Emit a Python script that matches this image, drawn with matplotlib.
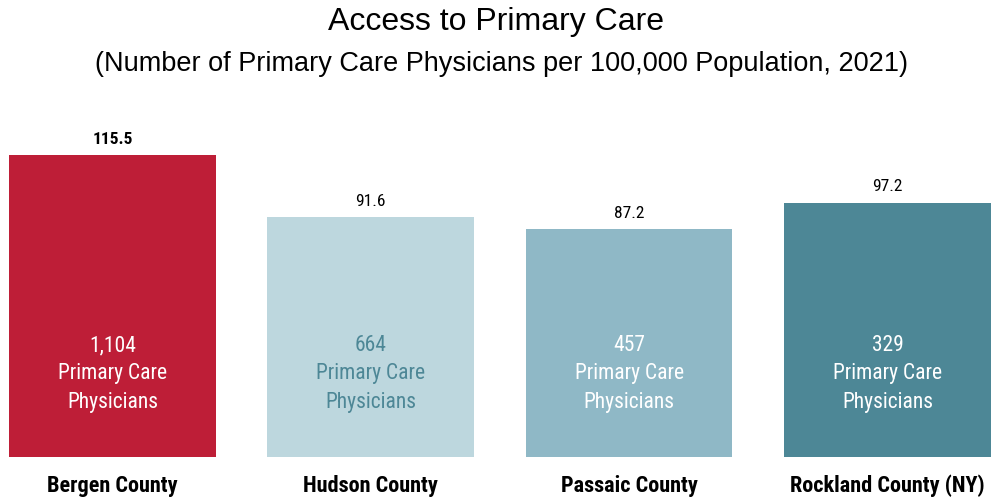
import matplotlib
matplotlib.use("Agg")
import matplotlib.pyplot as plt
from matplotlib import font_manager

names = {f.name for f in font_manager.fontManager.ttflist}
narrow = "Liberation Sans Narrow" if "Liberation Sans Narrow" in names else "Roboto Condensed" if "Roboto Condensed" in names else "Liberation Sans"

categories = ["Bergen County", "Hudson County", "Passaic County", "Rockland County (NY)"]
rates = [115.5, 91.6, 87.2, 97.2]
rate_labels = ["115.5", "91.6", "87.2", "97.2"]
physicians = ["1,104", "664", "457", "329"]
colors = ["#BE1E37", "#BDD7DE", "#8FB8C6", "#4D8796"]
inner_colors = ["white", "#4D8796", "white", "white"]

W, H = 991, 498
fig = plt.figure(figsize=(W / 100, H / 100), dpi=100)
ax = fig.add_axes([0, 41 / H, 1, (H - 41) / H])
xs = list(range(len(categories)))
ax.bar(xs, rates, width=0.8, color=colors)
ax.set_xlim(-0.4355, 3.401)
ax.set_ylim(0, 457 / 2.615)
ax.axis("off")

for i, (x, r) in enumerate(zip(xs, rates)):
    ax.text(x, r + 6.1, rate_labels[i], ha="center", va="center", fontsize=12.5,
            family=narrow, fontweight="bold" if i == 0 else "normal", color="black")
    ax.text(x, 31.8, f"{physicians[i]}\nPrimary Care\nPhysicians", ha="center", va="center",
            fontsize=15.5, family=narrow, color=inner_colors[i], linespacing=1.45)
    ax.text(x, -11, categories[i], ha="center", va="center", fontsize=16,
            family=narrow, fontweight="bold", color="black", clip_on=False)

fig.text(0.5, 1 - 22 / H, "Access to Primary Care", ha="center", va="center",
         fontsize=23, family="Liberation Sans")
fig.text(501 / W, 1 - 64 / H, "(Number of Primary Care Physicians per 100,000 Population, 2021)",
         ha="center", va="center", fontsize=19.5, family="Liberation Sans")

fig.savefig("out.png", dpi=100)
